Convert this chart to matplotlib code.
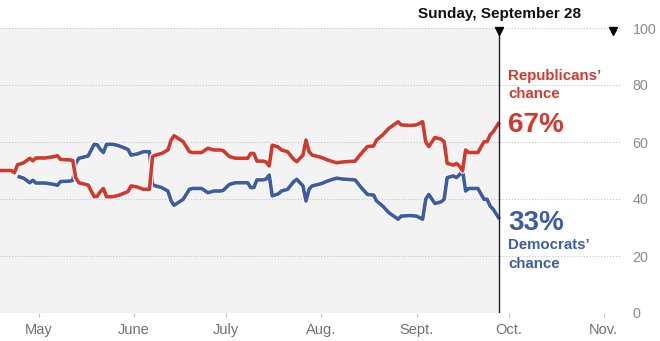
import matplotlib
matplotlib.use("Agg")
import matplotlib.pyplot as plt
import matplotlib.dates as mdates
import matplotlib.patheffects as pe
import matplotlib.transforms as mtransforms
import numpy as np

plt.rcParams['font.family'] = ['Liberation Sans', 'DejaVu Sans']

# ---------------- data ----------------
rep_dates = [
    "2014-04-18", "2014-04-22", "2014-04-23", "2014-04-24", "2014-04-26", "2014-04-28",
    "2014-04-29", "2014-04-30", "2014-05-03", "2014-05-06", "2014-05-07", "2014-05-08",
    "2014-05-11", "2014-05-12", "2014-05-13", "2014-05-14", "2014-05-17", "2014-05-19",
    "2014-05-20", "2014-05-21", "2014-05-22", "2014-05-23", "2014-05-25", "2014-05-27",
    "2014-05-30", "2014-05-31", "2014-06-02", "2014-06-04", "2014-06-06", "2014-06-07",
    "2014-06-08", "2014-06-10", "2014-06-12", "2014-06-13", "2014-06-14", "2014-06-15",
    "2014-06-17", "2014-06-19", "2014-06-20", "2014-06-23", "2014-06-25", "2014-06-27",
    "2014-06-29", "2014-06-30", "2014-07-02", "2014-07-04", "2014-07-08", "2014-07-09",
    "2014-07-10", "2014-07-11", "2014-07-13", "2014-07-14", "2014-07-15", "2014-07-16",
    "2014-07-18", "2014-07-19", "2014-07-21", "2014-07-23", "2014-07-24", "2014-07-26",
    "2014-07-27", "2014-07-28", "2014-07-29", "2014-08-01", "2014-08-03", "2014-08-05",
    "2014-08-06", "2014-08-08", "2014-08-12", "2014-08-14", "2014-08-16", "2014-08-18",
    "2014-08-19", "2014-08-21", "2014-08-23", "2014-08-26", "2014-08-27", "2014-08-30",
    "2014-09-01", "2014-09-03", "2014-09-04", "2014-09-05", "2014-09-07", "2014-09-09",
    "2014-09-10", "2014-09-11", "2014-09-13", "2014-09-14", "2014-09-15", "2014-09-16",
    "2014-09-17", "2014-09-18", "2014-09-21", "2014-09-23", "2014-09-24", "2014-09-25",
    "2014-09-26", "2014-09-28",
]
rep_chance = [
    50.0, 50.0, 49.2, 52.0, 52.7, 54.3,
    53.4, 54.4, 54.4, 54.9, 55.2, 53.9,
    53.7, 53.5, 47.4, 45.7, 44.9, 40.8,
    41.0, 42.6, 43.7, 40.8, 40.8, 41.3,
    42.6, 44.6, 44.2, 43.4, 43.4, 54.9,
    55.4, 56.0, 57.2, 60.5, 62.2, 61.5,
    60.1, 56.6, 56.3, 56.3, 57.8, 57.2,
    57.2, 57.0, 54.9, 54.3, 54.3, 56.0,
    56.0, 53.3, 53.3, 53.0, 51.6, 58.9,
    58.2, 57.2, 56.6, 53.9, 53.1, 55.4,
    60.7, 56.6, 55.4, 54.6, 53.7, 53.0,
    52.7, 53.0, 53.3, 56.0, 58.4, 58.6,
    60.7, 62.5, 64.8, 67.1, 66.0, 65.8,
    66.0, 67.1, 60.1, 58.4, 61.6, 61.0,
    60.1, 52.5, 51.9, 52.5, 51.5, 49.9,
    57.2, 56.3, 56.3, 60.1, 60.1, 62.5,
    63.6, 67.0,
]
dem_dates = rep_dates[3:]
dem_chance = [
    48.0, 47.3, 45.7,
    46.6, 45.6, 45.6, 45.1, 44.8, 46.1,
    46.3, 46.5, 52.6, 54.3, 55.1, 59.2,
    59.0, 57.4, 56.3, 59.2, 59.2, 58.7,
    57.4, 55.4, 55.8, 56.6, 56.6, 45.1,
    44.6, 44.0, 42.8, 39.5, 37.8, 38.5,
    39.9, 43.4, 43.7, 43.7, 42.2, 42.8,
    42.8, 43.0, 45.1, 45.7, 45.7, 44.0,
    44.0, 46.7, 46.7, 47.0, 48.4, 41.1,
    41.8, 42.8, 43.4, 46.1, 46.9, 44.6,
    39.3, 43.4, 44.6, 45.4, 46.3, 47.0,
    47.3, 47.0, 46.7, 44.0, 41.6, 41.4,
    39.3, 37.5, 35.2, 32.9, 34.0, 34.2,
    34.0, 32.9, 39.9, 41.6, 38.4, 39.0,
    39.9, 47.5, 48.1, 47.5, 48.5, 50.1,
    42.8, 43.7, 43.7, 39.9, 39.9, 37.5,
    36.4, 33.0,
]
month_ticks = ["2014-05-01", "2014-06-01", "2014-07-01", "2014-08-01",
               "2014-09-01", "2014-10-01", "2014-11-01"]
month_labels = ["May", "June", "July", "Aug.", "Sept.", "Oct.", "Nov."]
y_ticks = [0, 20, 40, 60, 80, 100]
current_date = "2014-09-28"
election_date = "2014-11-04"
title_text = "Sunday, September 28"
rep_label = "Republicans’\nchance"
dem_label = "Democrats’\nchance"
x_start = "2014-04-18"
x_end = "2014-11-06"

RED = "#d3382b"
BLUE = "#3c5ca6"

# ---------------- figure ----------------
W, H = 660, 341
fig = plt.figure(figsize=(W / 100, H / 100), dpi=100)
ax = fig.add_axes([0, 1 - 313 / H, 620 / W, 285 / H])

d = lambda s: mdates.date2num(np.datetime64(s))
rx = [d(s) for s in rep_dates]
dx = [d(s) for s in dem_dates]
cur = d(current_date)

ax.set_xlim(d(x_start) + 0.3, d(x_end) + 0.3)
ax.set_ylim(0, 100)
for s in ax.spines.values():
    s.set_visible(False)
ax.set_facecolor("white")

ax.axvspan(ax.get_xlim()[0], cur, color="#f3f3f3", zorder=0, lw=0)

for y in y_ticks:
    ax.axhline(y, color="#c4c4c4", ls=(0, (1, 1.6)), lw=0.8, zorder=1)

halo = [pe.Stroke(linewidth=4.3, foreground="white"), pe.Normal()]
ax.plot(dx, dem_chance, color=BLUE, lw=2.6, zorder=3, path_effects=halo,
        solid_joinstyle="round", solid_capstyle="butt")
ax.plot(rx, rep_chance, color=RED, lw=2.6, zorder=4, path_effects=halo,
        solid_joinstyle="round", solid_capstyle="butt")

ax.axvline(cur, color="#222222", lw=1.0, zorder=5)

off = mtransforms.ScaledTranslation(0, -2.5 / 100, fig.dpi_scale_trans)
ax.plot([cur, d(election_date)], [100, 100], ls="none", marker="v",
        color="black", markersize=6, clip_on=False, zorder=6,
        transform=ax.transData + off)

# axes ticks
ax.yaxis.tick_right()
ax.set_yticks(y_ticks)
ax.set_yticklabels([str(v) for v in y_ticks])
ax.tick_params(axis="y", length=0, pad=9, labelsize=10.3, labelcolor="#8a8a8a")

ax.set_xticks([d(s) for s in month_ticks])
ax.set_xticklabels(month_labels)
ax.tick_params(axis="x", length=3, width=0.8, color="#c4c4c4", pad=4,
               labelsize=10.5, labelcolor="#707070")

# title
ax.annotate(title_text, xy=(cur, 100), xytext=(0, 7.5), textcoords="offset points",
            ha="center", va="baseline", fontsize=11, fontweight="bold",
            color="#111111", annotation_clip=False)

# labels
rep_end = rep_chance[-1]
dem_end = dem_chance[-1]
ax.annotate(f"{rep_end:.0f}%", xy=(cur, rep_end), xytext=(6.5, -7.5),
            textcoords="offset points", ha="left", va="baseline",
            fontsize=20, fontweight="bold", color=RED, annotation_clip=False)
ax.annotate(rep_label, xy=(cur, rep_end), xytext=(6.5, 15),
            textcoords="offset points", ha="left", va="bottom",
            fontsize=10.8, fontweight="bold", color=RED, linespacing=1.42,
            annotation_clip=False)
ax.annotate(f"{dem_end:.0f}%", xy=(cur, dem_end), xytext=(6.5, -8),
            textcoords="offset points", ha="left", va="baseline",
            fontsize=20, fontweight="bold", color=BLUE, annotation_clip=False)
ax.annotate(dem_label, xy=(cur, dem_end), xytext=(6.5, -14),
            textcoords="offset points", ha="left", va="top",
            fontsize=10.8, fontweight="bold", color=BLUE, linespacing=1.42,
            annotation_clip=False)

fig.savefig("out.png", dpi=100)
